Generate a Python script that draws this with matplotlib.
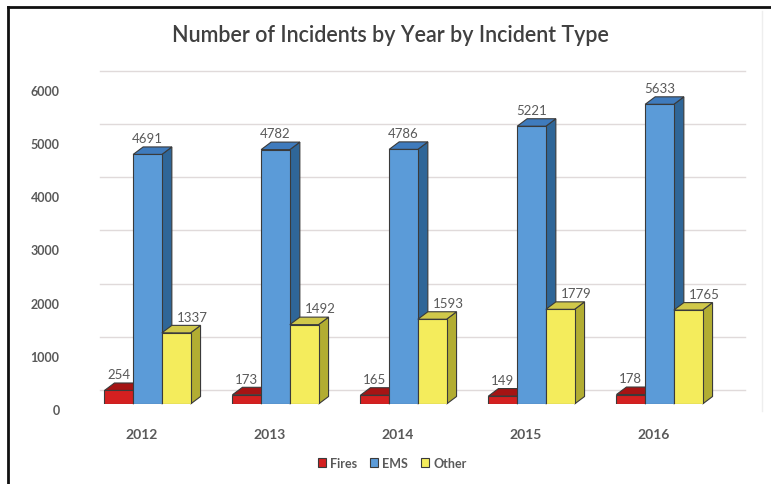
import matplotlib
matplotlib.use("Agg")
import matplotlib.pyplot as plt
from matplotlib.patches import Polygon, Patch
from matplotlib.transforms import ScaledTranslation
from matplotlib.lines import Line2D

plt.rcParams['font.family'] = ['Lato', 'DejaVu Sans']

years = ["2012", "2013", "2014", "2015", "2016"]
series_names = ["Fires", "EMS", "Other"]
fires = [254, 173, 165, 149, 178]
ems = [4691, 4782, 4786, 5221, 5633]
other = [1337, 1492, 1593, 1779, 1765]
y_ticks = [0, 1000, 2000, 3000, 4000, 5000, 6000]

front_colors = ["#d42020", "#5b9bd8", "#f4ec5c"]
top_colors = ["#a51414", "#3f7bbd", "#d0c84a"]
side_colors = ["#8e1010", "#2f6698", "#b2ad32"]
label_shift_px = [0, 0, 16]
edge_color = "#3a3a3a"
text_color = "#595959"

W_PX, H_PX, DPI = 771, 485, 100
fig = plt.figure(figsize=(W_PX / DPI, H_PX / DPI), dpi=DPI)
fig.patch.set_facecolor("white")

PX_PER_GROUP = 128.0
PX_PER_UNIT = 0.0532
xmin, xmax = -0.6, 4.75
ymin, ymax = 0, 6500
ax_left_px = 70.7
ax_bottom_px = 80.0
ax_w = (xmax - xmin) * PX_PER_GROUP
ax_h = (ymax - ymin) * PX_PER_UNIT
ax = fig.add_axes([ax_left_px / W_PX, ax_bottom_px / H_PX, ax_w / W_PX, ax_h / H_PX])
ax.set_xlim(xmin, xmax)
ax.set_ylim(ymin, ymax)
ax.set_facecolor("none")
for s in ax.spines.values():
    s.set_visible(False)

BW = 28.7 / PX_PER_GROUP
DX = 10.0 / PX_PER_GROUP
DY = 7.5 / PX_PER_UNIT

# back-wall gridlines (shifted into depth)
wall_shift = ScaledTranslation(0, 14 / DPI, fig.dpi_scale_trans)
gx0 = (100 - ax_left_px) / PX_PER_GROUP + xmin
gx1 = (745 - ax_left_px) / PX_PER_GROUP + xmin
for t in y_ticks:
    ax.plot([gx0, gx1], [t, t], color="#e0dada", lw=1.0, zorder=0.5,
            transform=ax.transData + wall_shift, clip_on=False)

series = [fires, ems, other]
for i in range(len(years)):
    for k, vals in enumerate(series):
        v = vals[i]
        x0 = i + (k - 1.5) * BW
        x1 = x0 + BW
        z = 2 + i * 3 + k
        side = Polygon([(x1, 0), (x1 + DX, DY), (x1 + DX, v + DY), (x1, v)],
                       closed=True, facecolor=side_colors[k], edgecolor=edge_color,
                       lw=0.8, zorder=z, clip_on=False)
        top = Polygon([(x0, v), (x1, v), (x1 + DX, v + DY), (x0 + DX, v + DY)],
                      closed=True, facecolor=top_colors[k], edgecolor=edge_color,
                      lw=0.8, zorder=z, clip_on=False)
        ax.add_patch(side)
        ax.add_patch(top)
        ax.bar(x0, v, width=BW, align="edge", color=front_colors[k],
               edgecolor=edge_color, lw=0.8, zorder=z)
        ax.annotate(str(v), xy=(x0 + BW / 2, v + DY),
                    xytext=(label_shift_px[k] * 72 / DPI, 2),
                    textcoords="offset points", ha="center", va="bottom",
                    fontsize=9.5, color=text_color, zorder=50)

# axes ticks
ax.set_yticks(y_ticks)
ax.set_yticklabels([str(t) for t in y_ticks], fontsize=9, fontweight="bold", color=text_color)
ax.tick_params(axis="y", length=0, pad=8)
for lab in ax.get_yticklabels():
    lab.set_transform(lab.get_transform() + ScaledTranslation(0, -5 / DPI, fig.dpi_scale_trans))

ax.set_xticks(range(len(years)))
ax.set_xticklabels(years, fontsize=10, fontweight="bold", color=text_color)
ax.tick_params(axis="x", length=0, pad=17)
for lab in ax.get_xticklabels():
    lab.set_transform(lab.get_transform() + ScaledTranslation(-6 / DPI, 0, fig.dpi_scale_trans))

# title
fig.text(390 / W_PX, 1 - 36 / H_PX, "Number of Incidents by Year by Incident Type",
         ha="center", va="center", fontsize=15.5, fontweight="semibold", color="#404040")

# legend
handles = [Patch(facecolor=front_colors[k], edgecolor=edge_color, lw=0.8, label=series_names[k])
           for k in range(3)]
fig.legend(handles=handles, loc="center", bbox_to_anchor=(392 / W_PX, 1 - 464 / H_PX),
           ncol=3, frameon=False, handlelength=0.7, handleheight=0.7,
           handletextpad=0.3, columnspacing=1.0, labelcolor=text_color,
           prop={"weight": "bold", "size": 9})

# outer frame (top and left dark edges)
fig.add_artist(Line2D([8 / W_PX, 1], [1 - 8 / H_PX, 1 - 8 / H_PX], color="#111111", lw=2))
fig.add_artist(Line2D([8 / W_PX, 8 / W_PX], [0, 1 - 8 / H_PX], color="#111111", lw=2))
fig.add_artist(Line2D([762 / W_PX, 762 / W_PX], [0.15, 1 - 12 / H_PX], color="#eeeeee", lw=1))

fig.savefig("out.png", dpi=DPI, facecolor="white")
